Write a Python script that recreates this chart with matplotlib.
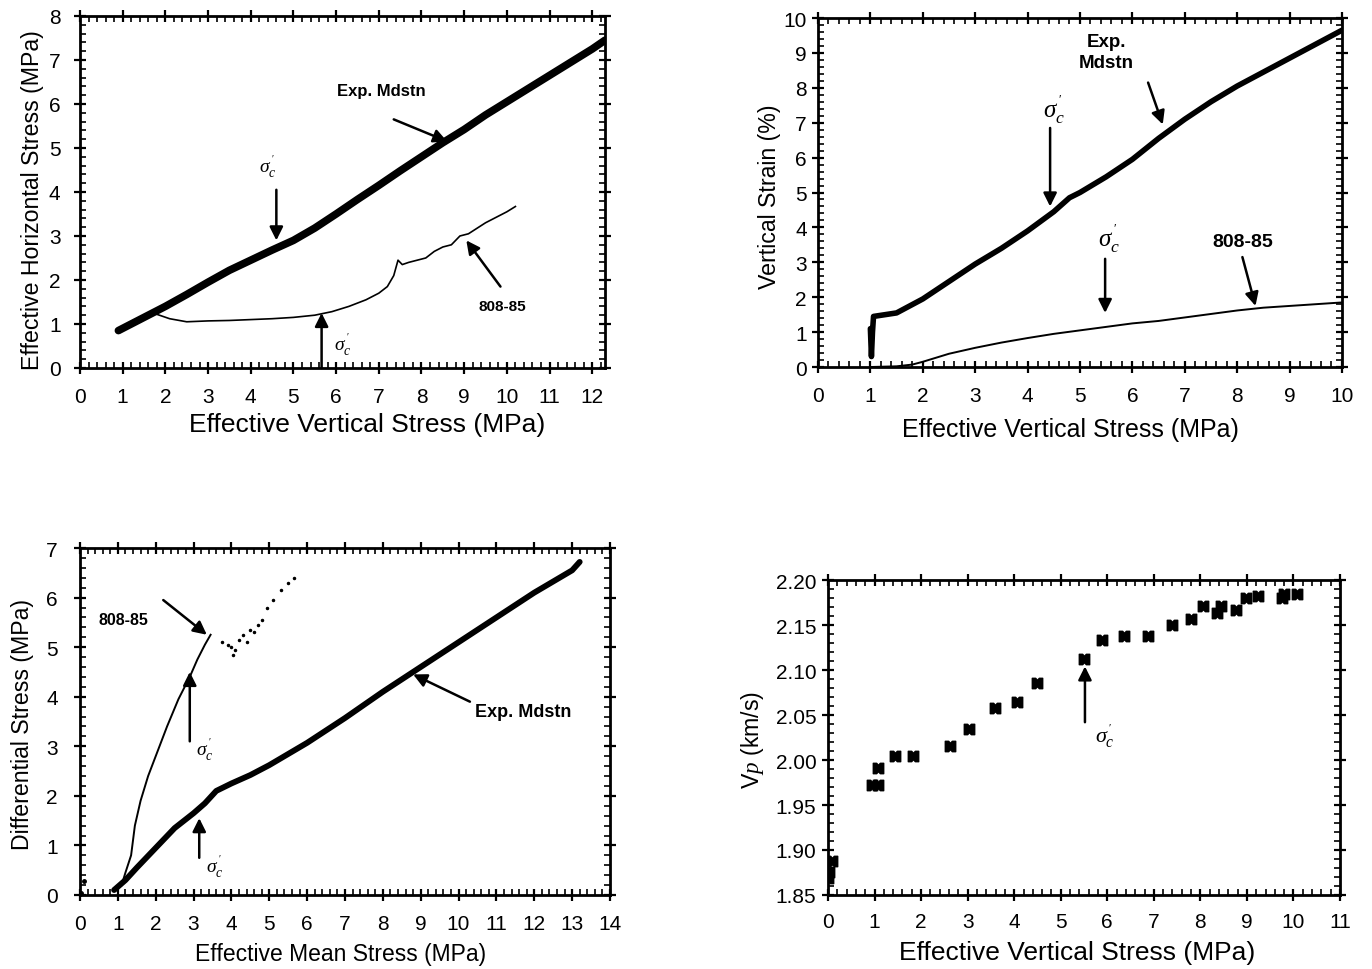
import matplotlib
matplotlib.use("Agg")
import matplotlib.pyplot as plt
from matplotlib.ticker import MultipleLocator, FormatStrFormatter
from matplotlib.path import Path

plt.rcParams['font.family'] = ['Liberation Sans', 'DejaVu Sans']
plt.rcParams['mathtext.fontset'] = 'custom'
plt.rcParams['mathtext.rm'] = 'Liberation Serif'
plt.rcParams['mathtext.it'] = 'Liberation Serif:italic'

# ---------------- data ----------------
# Panel A: effective horizontal vs effective vertical stress
a_exp_x = [0.9, 1.2, 1.5, 2.0, 2.5, 3.0, 3.5, 4.0, 4.5, 5.0, 5.5, 6.0, 6.5, 7.0, 7.5, 8.0, 8.5, 9.0, 9.5, 10.0, 10.5, 11.0, 11.5, 12.0, 12.3]
a_exp_y = [0.85, 1.0, 1.15, 1.4, 1.67, 1.95, 2.22, 2.45, 2.68, 2.9, 3.18, 3.5, 3.83, 4.15, 4.48, 4.8, 5.12, 5.42, 5.75, 6.05, 6.35, 6.65, 6.95, 7.25, 7.45]
a_808_x = [1.8, 2.1, 2.5, 3.0, 3.5, 4.0, 4.5, 5.0, 5.5, 5.9, 6.3, 6.7, 7.0, 7.2, 7.35, 7.45, 7.55, 7.7, 7.9, 8.1, 8.3, 8.5, 8.7, 8.9, 9.1, 9.5, 10.0, 10.2]
a_808_y = [1.22, 1.12, 1.05, 1.07, 1.08, 1.1, 1.12, 1.15, 1.2, 1.28, 1.4, 1.55, 1.7, 1.85, 2.1, 2.45, 2.35, 2.4, 2.45, 2.5, 2.65, 2.75, 2.8, 3.0, 3.05, 3.3, 3.55, 3.67]

# Panel B: vertical strain vs effective vertical stress
b_exp_x = [1.0, 1.02, 1.04, 1.06, 1.5, 2.0, 2.5, 3.0, 3.5, 4.0, 4.5, 4.8, 5.0, 5.5, 6.0, 6.5, 7.0, 7.5, 8.0, 8.5, 9.0, 9.5, 10.0]
b_exp_y = [1.1, 0.3, 1.0, 1.45, 1.55, 1.95, 2.45, 2.95, 3.4, 3.9, 4.45, 4.85, 5.0, 5.45, 5.95, 6.55, 7.1, 7.6, 8.05, 8.45, 8.85, 9.25, 9.65]
b_808_x = [1.0, 1.5, 1.8, 2.0, 2.5, 3.0, 3.5, 4.0, 4.5, 5.0, 5.5, 6.0, 6.5, 7.0, 7.5, 8.0, 8.5, 9.0, 9.5, 10.0]
b_808_y = [0.0, 0.02, 0.07, 0.15, 0.38, 0.55, 0.7, 0.83, 0.95, 1.05, 1.15, 1.25, 1.32, 1.42, 1.52, 1.62, 1.7, 1.75, 1.8, 1.85]

# Panel C: differential stress vs effective mean stress
c_exp_x = [0.9, 1.2, 1.5, 2.0, 2.5, 3.0, 3.3, 3.6, 4.0, 4.5, 5.0, 6.0, 7.0, 8.0, 9.0, 10.0, 11.0, 12.0, 13.0, 13.2]
c_exp_y = [0.1, 0.3, 0.55, 0.95, 1.35, 1.65, 1.85, 2.1, 2.25, 2.42, 2.62, 3.07, 3.57, 4.1, 4.6, 5.1, 5.6, 6.1, 6.55, 6.72]
c_808_x = [1.1, 1.2, 1.35, 1.45, 1.6, 1.8, 2.0, 2.3, 2.6, 2.9, 3.1, 3.3, 3.45]
c_808_y = [0.2, 0.45, 0.8, 1.4, 1.9, 2.4, 2.8, 3.4, 3.95, 4.4, 4.75, 5.05, 5.25]
c_808s_x = [3.75, 3.9, 4.0, 4.05, 4.1, 4.2, 4.3, 4.4, 4.5, 4.6, 4.7, 4.8, 4.95, 5.1, 5.3, 5.5, 5.65]
c_808s_y = [5.1, 5.05, 5.0, 4.85, 4.95, 5.15, 5.25, 5.1, 5.35, 5.3, 5.45, 5.55, 5.8, 5.95, 6.15, 6.3, 6.4]
c_stray_x = [0.02, 0.1]
c_stray_y = [0.05, 0.28]

# Panel D: Vp vs effective vertical stress
d_x = [0.0, 0.02, 0.09, 0.94, 1.08, 1.08, 1.44, 1.82, 2.63, 3.03, 3.58, 4.05, 4.5, 5.51, 5.88, 6.36, 6.87, 7.39, 7.8, 8.05, 8.35, 8.44, 8.76, 8.98, 9.23, 9.76, 9.8, 10.07]
d_vp = [1.869, 1.876, 1.888, 1.972, 1.972, 1.991, 2.005, 2.005, 2.016, 2.035, 2.058, 2.065, 2.086, 2.112, 2.133, 2.138, 2.138, 2.150, 2.157, 2.171, 2.163, 2.171, 2.167, 2.180, 2.182, 2.180, 2.184, 2.185]

# ---------------- figure ----------------
fig = plt.figure(figsize=(13.72, 9.70), dpi=100)
axA = fig.add_axes([0.0583, 0.6196, 0.3827, 0.3629])
axB = fig.add_axes([0.5962, 0.6206, 0.3819, 0.3598])
axC = fig.add_axes([0.0583, 0.0763, 0.3863, 0.3577])
axD = fig.add_axes([0.6035, 0.0763, 0.3732, 0.3247])

TICK_FS = 15
YLAB_FS = 16.7


def style(ax, xmax, xmaj, xmin, ymin_, ymax, ymaj, ymnr, xpad, ypad):
    ax.set_xlim(0, xmax)
    ax.set_ylim(ymin_, ymax)
    ax.xaxis.set_major_locator(MultipleLocator(xmaj))
    ax.xaxis.set_minor_locator(MultipleLocator(xmin))
    ax.yaxis.set_major_locator(MultipleLocator(ymaj))
    ax.yaxis.set_minor_locator(MultipleLocator(ymnr))
    ax.tick_params(which='both', top=True, right=True, labelsize=TICK_FS)
    ax.tick_params(which='major', direction='inout', length=8, width=1.6)
    ax.tick_params(which='minor', direction='in', length=4, width=1.2)
    ax.tick_params(axis='x', which='major', pad=xpad)
    ax.tick_params(axis='y', which='major', pad=ypad)
    for s in ax.spines.values():
        s.set_linewidth(2)


def labels(ax, xl, xfs, xpos, yl, ypos):
    ax.set_xlabel(xl, fontsize=xfs)
    ax.set_ylabel(yl, fontsize=YLAB_FS)
    ax.xaxis.set_label_coords(*xpos)
    ax.yaxis.set_label_coords(*ypos)
    ax.xaxis.label.set_va('center')
    ax.yaxis.label.set_va('center')


def arrow(ax, tail, head, lw=1.8, ms=20):
    ax.annotate('', xy=head, xytext=tail,
                arrowprops=dict(arrowstyle='-|>', color='black', lw=lw,
                                mutation_scale=ms, shrinkA=0, shrinkB=0))


sig = r"$\sigma_c^{\,'}$"

# Panel A
axA.plot(a_exp_x, a_exp_y, color='black', lw=5.5, solid_capstyle='round')
axA.plot(a_808_x, a_808_y, color='black', lw=1.2)
style(axA, 12.3, 1, 0.2, 0, 8, 1, 0.2, 10, 10)
labels(axA, 'Effective Vertical Stress (MPa)', 19, (0.547, -0.159),
       'Effective Horizontal Stress (MPa)', (-0.091, 0.48))
axA.text(7.05, 6.3, 'Exp. Mdstn', fontsize=12, fontweight='bold', ha='center', va='center')
arrow(axA, (7.35, 5.65), (8.6, 5.15))
axA.text(4.4, 4.6, sig, fontsize=14, ha='center', va='center')
arrow(axA, (4.6, 4.05), (4.6, 2.9))
axA.text(9.9, 1.4, '808-85', fontsize=11, fontweight='bold', ha='center', va='center')
arrow(axA, (9.85, 1.85), (9.05, 2.9))
axA.text(6.15, 0.55, sig, fontsize=14, ha='center', va='center')
arrow(axA, (5.66, 0.0), (5.66, 1.25))

# Panel B
axB.plot(b_exp_x, b_exp_y, color='black', lw=4.0, solid_capstyle='round')
axB.plot(b_808_x, b_808_y, color='black', lw=1.4)
style(axB, 10, 1, 0.2, 0, 10, 1, 0.2, 10, 4)
labels(axB, 'Effective Vertical Stress (MPa)', 18, (0.481, -0.178),
       'Vertical Strain (%)', (-0.092, 0.49))
axB.text(5.5, 9.03, 'Exp.\nMdstn', fontsize=13.5, fontweight='bold', ha='center', va='center', linespacing=1.3)
arrow(axB, (6.3, 8.15), (6.58, 6.95))
axB.text(4.5, 7.4, sig, fontsize=18, ha='center', va='center')
arrow(axB, (4.43, 6.85), (4.43, 4.6))
axB.text(5.55, 3.7, sig, fontsize=18, ha='center', va='center')
arrow(axB, (5.48, 3.1), (5.48, 1.55))
axB.text(8.1, 3.6, '808-85', fontsize=14, fontweight='bold', ha='center', va='center')
arrow(axB, (8.1, 3.15), (8.35, 1.75))

# Panel C
axC.plot(c_exp_x, c_exp_y, color='black', lw=4.2, solid_capstyle='round')
axC.plot(c_808_x, c_808_y, color='black', lw=1.4)
axC.plot(c_808s_x, c_808s_y, color='black', lw=0, marker='.', ms=3)
axC.plot(c_stray_x, c_stray_y, color='black', lw=0, marker='.', ms=5)
style(axC, 14, 1, 0.2, 0, 7, 1, 0.2, 10, 12)
labels(axC, 'Effective Mean Stress (MPa)', 16.5, (0.492, -0.170),
       'Differential Stress (MPa)', (-0.109, 0.493))
axC.text(1.15, 5.56, '808-85', fontsize=11.5, fontweight='bold', ha='center', va='center')
arrow(axC, (2.2, 5.95), (3.35, 5.25))
axC.text(3.3, 2.95, sig, fontsize=14, ha='center', va='center')
arrow(axC, (2.9, 3.1), (2.9, 4.5))
axC.text(3.55, 0.6, sig, fontsize=14, ha='center', va='center')
arrow(axC, (3.15, 0.75), (3.15, 1.55))
axC.text(11.7, 3.7, 'Exp. Mdstn', fontsize=13, fontweight='bold', ha='center', va='center')
arrow(axC, (10.3, 3.9), (8.8, 4.45))

# Panel D
notched = Path([(-1, -1), (-0.35, -1), (0, -0.6), (0.35, -1), (1, -1),
                (1, 1), (0.35, 1), (0, 0.6), (-0.35, 1), (-1, 1), (-1, -1)],
               [Path.MOVETO] + [Path.LINETO] * 9 + [Path.CLOSEPOLY])
axD.plot(d_x, d_vp, ls='none', marker=notched, ms=7.5, color='black')
style(axD, 11, 1, 0.2, 1.85, 2.20, 0.05, 0.01, 8.5, 4.4)
axD.yaxis.set_major_formatter(FormatStrFormatter('%.2f'))
labels(axD, 'Effective Vertical Stress (MPa)', 19, (0.486, -0.181),
       r'V$\mathit{p}$ (km/s)', (-0.148, 0.495))
axD.text(5.95, 2.027, sig, fontsize=16, ha='center', va='center')
arrow(axD, (5.52, 2.042), (5.52, 2.104))

fig.savefig('out.png', dpi=100)
